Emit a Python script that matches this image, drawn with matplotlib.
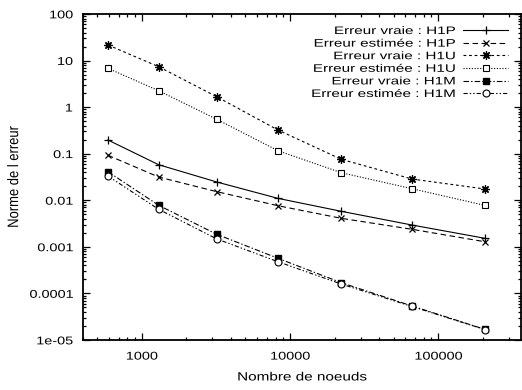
import matplotlib
matplotlib.use("Agg")
import matplotlib.pyplot as plt
from matplotlib.ticker import LogLocator, NullFormatter, FixedLocator, FixedFormatter
from matplotlib.patheffects import AbstractPathEffect
from matplotlib.transforms import Affine2D

plt.rcParams['font.family'] = ['Liberation Sans', 'DejaVu Sans']
plt.rcParams['lines.scale_dashes'] = False

# Data
nodes = [592, 1302, 3210, 8300, 22200, 66700, 206000]
h1p_vraie = [0.197, 0.058, 0.0247, 0.0110, 0.0058, 0.00294, 0.00153]
h1p_est = [0.0925, 0.0316, 0.0153, 0.00765, 0.0041, 0.00238, 0.00129]
h1u_vraie = [21.6, 7.38, 1.67, 0.323, 0.0759, 0.0286, 0.0175]
h1u_est = [6.82, 2.25, 0.548, 0.116, 0.0391, 0.0177, 0.0078]
h1m_vraie = [0.0411, 0.0078, 0.00186, 0.000568, 0.00017, 5.37e-5, 1.70e-5]
h1m_est = [0.0332, 0.0064, 0.00148, 0.00048, 0.000159, 5.24e-5, 1.68e-5]

labels = ["Erreur vraie : H1P", "Erreur estimée : H1P",
          "Erreur vraie : H1U", "Erreur estimée : H1U",
          "Erreur vraie : H1M", "Erreur estimée : H1M"]
yticks = [1e-5, 1e-4, 1e-3, 1e-2, 1e-1, 1, 10, 100]
ytick_labels = ["1e-05", "0.0001", "0.001", "0.01", "0.1", "1", "10", "100"]
xticks = [1000, 10000, 100000]
xtick_labels = ["1000", "10000", "100000"]


class Squish(AbstractPathEffect):
    """Scale glyphs in text-local coordinates (the reference text is
    drawn with a different aspect ratio)."""
    def __init__(self, sx=1.0, sy=1.0, anchor='center'):
        super().__init__()
        self.sx, self.sy, self.anchor = sx, sy, anchor

    def draw_path(self, renderer, gc, tpath, affine, rgbFace=None):
        ext = tpath.get_extents()
        if self.anchor == 'right':
            cx = ext.x1
        else:
            cx = 0.5 * (ext.x0 + ext.x1)
        cy = 36.0
        t = (Affine2D().translate(-cx, -cy).scale(self.sx, self.sy)
             .translate(cx, cy))
        renderer.draw_path(gc, tpath, t + affine, rgbFace)


SQ = 0.78

fig = plt.figure(figsize=(5.22, 3.90), dpi=100)
ax = fig.add_axes([82.7/522, 1-340/390, (521-82.7)/522, (340-14)/390])

lw = 0.8
ax.plot(nodes, h1p_vraie, color='black', lw=lw, ls='-', marker='+', ms=6, mew=0.9, label=labels[0])
ax.plot(nodes, h1p_est, color='black', lw=lw, ls=(0, (4, 2.5)), marker='x', ms=5, mew=0.9, label=labels[1])
ax.plot(nodes, h1u_vraie, color='black', lw=lw, ls=(0, (2, 2)), marker=(8, 2, 0), ms=6, mew=0.9, label=labels[2])
ax.plot(nodes, h1u_est, color='black', lw=lw, ls=(0, (0.8, 1.2)), marker='s', ms=5, mfc='white', mew=0.8, label=labels[3])
ax.plot(nodes, h1m_vraie, color='black', lw=lw, ls=(0, (4, 1.5, 1, 1.5)), marker='s', ms=5, mfc='black', label=labels[4])
ax.plot(nodes, h1m_est, color='black', lw=lw, ls=(0, (3, 1.5, 1, 1.5, 1, 1.5)), marker='o', ms=5, mfc='white', mew=0.8, label=labels[5])

ax.set_xscale('log')
ax.set_yscale('log')
ax.set_xlim(400, 362000)
ax.set_ylim(1e-5, 100)

ax.xaxis.set_major_locator(FixedLocator(xticks))
ax.xaxis.set_major_formatter(FixedFormatter(xtick_labels))
ax.xaxis.set_minor_locator(LogLocator(base=10, subs=range(2, 10), numticks=20))
ax.xaxis.set_minor_formatter(NullFormatter())
ax.yaxis.set_major_locator(FixedLocator(yticks))
ax.yaxis.set_major_formatter(FixedFormatter(ytick_labels))
ax.yaxis.set_minor_locator(LogLocator(base=10, subs=range(2, 10), numticks=20))
ax.yaxis.set_minor_formatter(NullFormatter())

ax.tick_params(which='both', direction='in', top=True, right=True, labelsize=10.4, width=0.9)
ax.tick_params(which='major', length=5, pad=7)
ax.tick_params(which='minor', length=2.5)
for s in ax.spines.values():
    s.set_linewidth(1.3)

ax.set_xlabel("Nombre de noeuds", fontsize=11, labelpad=5)
ax.set_ylabel("Norme de l erreur", fontsize=11, labelpad=6)
ax.xaxis.label.set_path_effects([Squish(1.0, SQ)])
ax.yaxis.label.set_path_effects([Squish(0.85, 1.0)])
for lbl in ax.get_xticklabels() + ax.get_yticklabels():
    lbl.set_path_effects([Squish(1.0, SQ)])

leg = ax.legend(loc='upper right', bbox_to_anchor=(1.0, 1.005), frameon=False,
                markerfirst=False, fontsize=8.5,
                handlelength=3.8, handletextpad=0.68, labelspacing=0.05,
                borderaxespad=0.6, borderpad=0.5)
for t in leg.get_texts():
    t.set_path_effects([Squish(1.29, 0.92, anchor='right')])

fig.savefig("out.png", dpi=100)
